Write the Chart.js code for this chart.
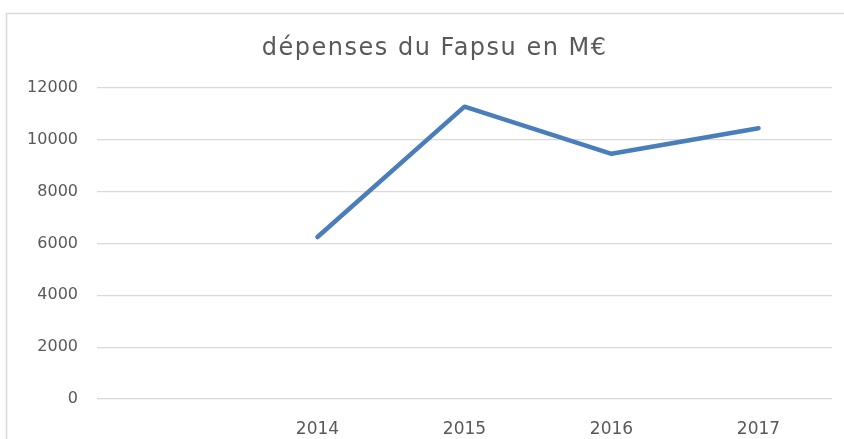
<!DOCTYPE html>
<html>
<head>
<meta charset="utf-8">
<script src="https://cdn.jsdelivr.net/npm/chart.js@4/dist/chart.umd.min.js"></script>
<style>
html,body{margin:0;padding:0;background:#fff;}
#wrap{width:844px;height:439px;position:relative;}
</style>
</head>
<body>
<div id="wrap"><canvas id="c" width="844" height="439"></canvas></div>
<script>
const titleText = 'dépenses du Fapsu en M€';
const categories = ['', '2014', '2015', '2016', '2017'];
const depenses = [null, 6250, 11280, 9460, 10450];
const yTicks = [0, 2000, 4000, 6000, 8000, 10000, 12000];

const frame = {
  id: 'frame',
  beforeDraw(chart) {
    const ctx = chart.ctx;
    ctx.save();
    ctx.strokeStyle = '#d9d9d9';
    ctx.lineWidth = 1.5;
    ctx.strokeRect(6.5, 13.5, 900, 500);
    ctx.restore();
  }
};

const chart = new Chart(document.getElementById('c'), {
  type: 'line',
  data: {
    labels: categories,
    datasets: [{
      label: titleText,
      data: depenses,
      borderColor: '#4A7EBB',
      backgroundColor: '#4A7EBB',
      borderWidth: 4.5,
      pointRadius: 0,
      borderCapStyle: 'round',
      borderJoinStyle: 'round',
      tension: 0,
      spanGaps: false
    }]
  },
  options: {
    responsive: false,
    animation: false,
    layout: { padding: { left: 0, right: 12, top: 0, bottom: 0 } },
    plugins: {
      legend: { display: false },
      tooltip: { enabled: false },
      title: {
        display: true,
        text: titleText,
        color: '#595959',
        font: { family: 'DejaVu Sans', size: 24, weight: 'normal' },
        padding: { top: 34.6, bottom: 24.6 }
      }
    },
    scales: {
      x: {
        type: 'category',
        offset: true,
        afterFit(scale) { scale.height = 40; },
        grid: { display: false, drawTicks: false },
        border: { display: false },
        ticks: {
          color: '#595959',
          font: { family: 'DejaVu Sans', size: 17 },
          padding: 20,
          maxRotation: 0,
          autoSkip: false
        }
      },
      y: {
        min: 0,
        max: 12000,
        afterBuildTicks(scale) { scale.ticks = yTicks.map(v => ({ value: v })); },
        afterFit(scale) { scale.width = 97; },
        grid: { color: '#d9d9d9', lineWidth: 1.3, drawTicks: false },
        border: { display: false },
        ticks: {
          color: '#595959',
          font: { family: 'DejaVu Sans', size: 16 },
          padding: 19,
          callback: (v) => String(v)
        }
      }
    }
  },
  plugins: [frame]
});

// widen title spacing and shift it to match the reference's centre
const tb = chart.titleBlock;
if (tb) {
  const origDraw = tb.draw.bind(tb);
  tb.draw = function () {
    const ctx = chart.ctx;
    ctx.save();
    ctx.letterSpacing = '1.5px';
    ctx.translate(18.7, 0);
    origDraw();
    ctx.restore();
  };
  chart.draw();
}
</script>
</body>
</html>
